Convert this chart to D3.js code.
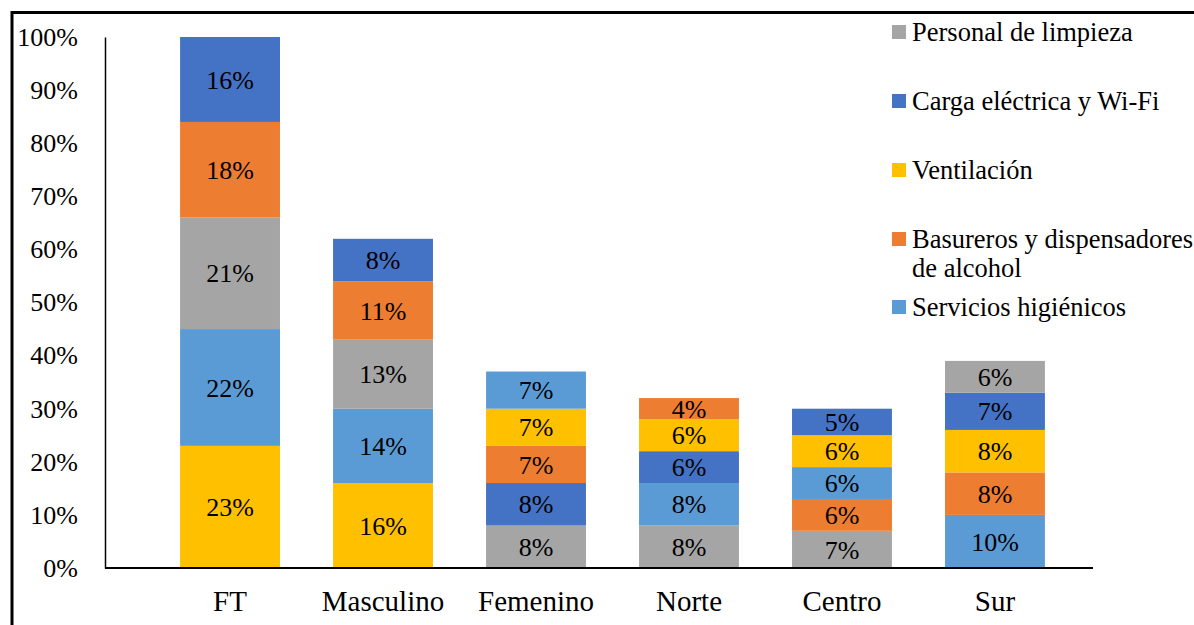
<!DOCTYPE html>
<html>
<head>
<meta charset="utf-8">
<script src="https://cdn.jsdelivr.net/npm/d3@7/dist/d3.min.js"></script>
<style>
  html, body { margin: 0; padding: 0; background: #fff; }
  svg { display: block; }
</style>
</head>
<body>
<svg id="chart" width="1194" height="625"></svg>
<script>
// Categories along the x axis
const categories = ["FT", "Masculino", "Femenino", "Norte", "Centro", "Sur"];

// Series names (legend order, top to bottom)
const seriesNames = [
  "Personal de limpieza",
  "Carga eléctrica y Wi-Fi",
  "Ventilación",
  "Basureros y dispensadores de alcohol",
  "Servicios higiénicos"
];

// Percentages per series, one value per category
const personalLimpieza    = [21, 13, 8, 8, 7, 6];
const cargaElectrica      = [16, 8, 8, 6, 5, 7];
const ventilacion         = [23, 16, 7, 6, 6, 8];
const basureros           = [18, 11, 7, 4, 6, 8];
const serviciosHigienicos = [22, 14, 7, 8, 6, 10];

// Stacking order inside each bar, bottom to top (indices into seriesNames)
const stackOrder = [
  [2, 4, 0, 3, 1],
  [2, 4, 0, 3, 1],
  [0, 1, 3, 2, 4],
  [0, 4, 1, 2, 3],
  [0, 3, 4, 2, 1],
  [4, 3, 2, 1, 0]
];

// Y axis tick values
const yTicks = [0, 10, 20, 30, 40, 50, 60, 70, 80, 90, 100];

const seriesValues = [personalLimpieza, cargaElectrica, ventilacion, basureros, serviciosHigienicos];
const colors = ["#A5A5A5", "#4472C4", "#FFC000", "#ED7D31", "#5B9BD5"];
const FONT = "Liberation Serif";

const svg = d3.select("#chart");

// Outer frame: left and top edges
svg.append("line").attr("x1", 12).attr("x2", 12).attr("y1", 11).attr("y2", 625)
  .attr("stroke", "#000").attr("stroke-width", 3);
svg.append("line").attr("x1", 11).attr("x2", 1194).attr("y1", 12.5).attr("y2", 12.5)
  .attr("stroke", "#000").attr("stroke-width", 3);

const plotLeft = 105, plotRight = 1093, plotTop = 37, plotBottom = 568;

const y = d3.scaleLinear().domain([0, 100]).range([plotBottom, plotTop]);
const x = d3.scaleBand().domain(categories).range([127, 1098]).padding(0.347);

// Build stacked segments from the data
const segments = [];
categories.forEach((cat, ci) => {
  let acc = 0;
  stackOrder[ci].forEach(si => {
    const v = seriesValues[si][ci];
    segments.push({ cat, series: si, y0: acc, y1: acc + v, value: v });
    acc += v;
  });
});

const g = svg.append("g").attr("font-family", FONT).attr("font-size", 26);

g.selectAll("rect.seg").data(segments).join("rect")
  .attr("class", "seg")
  .attr("x", d => x(d.cat))
  .attr("width", x.bandwidth())
  .attr("y", d => y(d.y1))
  .attr("height", d => y(d.y0) - y(d.y1))
  .attr("fill", d => colors[d.series]);

g.selectAll("text.seg-label").data(segments).join("text")
  .attr("class", "seg-label")
  .attr("x", d => x(d.cat) + x.bandwidth() / 2)
  .attr("y", d => (y(d.y0) + y(d.y1)) / 2)
  .attr("dy", "0.35em")
  .attr("text-anchor", "middle")
  .attr("fill", "#000")
  .text(d => d.value + "%");

// Y axis
const yAxis = d3.axisLeft(y).tickValues(yTicks).tickSize(0).tickPadding(27)
  .tickFormat(d => d + "%");
const yg = svg.append("g").attr("transform", `translate(${plotLeft},0)`).call(yAxis)
  .attr("font-family", FONT).attr("font-size", 26);
yg.select(".domain").attr("stroke", "#000").attr("stroke-width", 1.5);
yg.selectAll("text").attr("fill", "#000");

// X axis baseline
svg.append("line").attr("x1", plotLeft).attr("x2", plotRight)
  .attr("y1", plotBottom).attr("y2", plotBottom)
  .attr("stroke", "#000").attr("stroke-width", 2);

// X axis labels
const xAxis = d3.axisBottom(x).tickSize(0).tickPadding(22);
const xg = svg.append("g").attr("transform", `translate(0,${plotBottom})`).call(xAxis)
  .attr("font-family", FONT).attr("font-size", 29);
xg.select(".domain").remove();
xg.selectAll("text").attr("fill", "#000");

// Legend
const legendLines = [
  ["Personal de limpieza"],
  ["Carga eléctrica y Wi-Fi"],
  ["Ventilación"],
  ["Basureros y dispensadores", "de alcohol"],
  ["Servicios higiénicos"]
];
const legendY = [32, 101, 170, 239, 307];
const lg = svg.append("g").attr("font-family", FONT).attr("font-size", 26.5);
legendLines.forEach((lines, i) => {
  lg.append("rect").attr("x", 892).attr("y", legendY[i] - 7)
    .attr("width", 14).attr("height", 14).attr("fill", colors[i]);
  lines.forEach((t, li) => {
    lg.append("text").attr("x", 912).attr("y", legendY[i] + li * 29)
      .attr("dy", "0.35em").attr("fill", "#000")
      .text(t);
  });
});
</script>
</body>
</html>
